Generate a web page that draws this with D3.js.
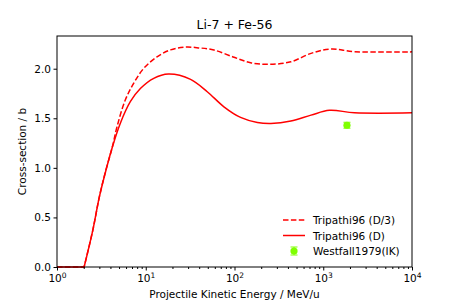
<!DOCTYPE html>
<html>
<head>
<meta charset="utf-8">
<script src="https://cdn.jsdelivr.net/npm/d3@7/dist/d3.min.js"></script>
<style>
body { margin: 0; background: #fff; }
text { font-family: "DejaVu Sans", sans-serif; fill: #000; }
</style>
</head>
<body>
<script>
// energies in MeV/u, cross-sections in barn
var energyD = [1, 2.02, 2.53, 3.0, 3.5, 4.16, 5.16, 6.7, 8.7, 12.3, 18, 32, 49.3, 76, 117, 181, 257, 432, 728, 1175, 2250, 10000];
var sigmaD = [0, 0, 0.37, 0.707, 0.95, 1.196, 1.448, 1.667, 1.80, 1.903, 1.946, 1.893, 1.768, 1.616, 1.509, 1.458, 1.448, 1.472, 1.532, 1.58, 1.556, 1.555];

var energyD3 = [1, 2.02, 2.53, 3.0, 3.5, 4.2, 4.73, 5.88, 7.3, 9.5, 13.4, 19, 28, 40, 58.6, 99, 152, 245, 432, 728, 1225, 2250, 10000];
var sigmaD3 = [0, 0, 0.37, 0.707, 0.955, 1.21, 1.41, 1.684, 1.852, 2.004, 2.12, 2.19, 2.218, 2.21, 2.189, 2.115, 2.06, 2.044, 2.07, 2.155, 2.199, 2.172, 2.17];

var expEnergy = [1850];
var expSigma = [1.43];
var expErr = [0.03];

var yTicks = [0, 0.5, 1.0, 1.5, 2.0];
var xTicks = [1, 10, 100, 1000, 10000];

var width = 457,
    height = 305,
    margin = {top: 36, right: 45, bottom: 38, left: 57};

var svg = d3.select("body").append("svg")
    .attr("width", width)
    .attr("height", height);

var x = d3.scaleLog().domain([1, 10000]).range([margin.left, width - margin.right]);
var y = d3.scaleLinear().domain([0, 2.33]).range([height - margin.bottom, margin.top]);

var flat = d3.line()
    .x(function(d) { return x(d[0]); })
    .y(function(d) { return y(d[1]); });
var smooth = d3.line()
    .x(function(d) { return x(d[0]); })
    .y(function(d) { return y(d[1]); })
    .curve(d3.curveCatmullRom.alpha(0.5));

// zero part as straight line, the rest as a smooth curve
function curvePath(pts) {
    var k = 0;
    while (k + 1 < pts.length && pts[k + 1][1] === 0) k++;
    return flat(pts.slice(0, k + 1)) + smooth(pts.slice(k)).replace(/^M/, "L");
}

var plot = svg.append("g");

plot.append("path")
    .attr("fill", "none")
    .attr("stroke", "red")
    .attr("stroke-width", 1.5)
    .attr("stroke-dasharray", "5.5,2.4")
    .attr("d", curvePath(d3.zip(energyD3, sigmaD3)));

plot.append("path")
    .attr("fill", "none")
    .attr("stroke", "red")
    .attr("stroke-width", 1.5)
    .attr("d", curvePath(d3.zip(energyD, sigmaD)));

// experimental point
var pts = svg.append("g").selectAll("g")
    .data(d3.zip(expEnergy, expSigma, expErr))
    .enter().append("g");
pts.append("line")
    .attr("x1", function(d) { return x(d[0]); })
    .attr("x2", function(d) { return x(d[0]); })
    .attr("y1", function(d) { return y(d[1] - d[2]); })
    .attr("y2", function(d) { return y(d[1] + d[2]); })
    .attr("stroke", "#7fff00").attr("stroke-width", 1);
[-1, 1].forEach(function(s) {
    pts.append("line")
        .attr("x1", function(d) { return x(d[0]) - 3.5; })
        .attr("x2", function(d) { return x(d[0]) + 3.5; })
        .attr("y1", function(d) { return y(d[1] + s * d[2]); })
        .attr("y2", function(d) { return y(d[1] + s * d[2]); })
        .attr("stroke", "#7fff00").attr("stroke-width", 1);
});
pts.append("circle")
    .attr("cx", function(d) { return x(d[0]); })
    .attr("cy", function(d) { return y(d[1]); })
    .attr("r", 3.6)
    .attr("fill", "#7fff00");

// axes
var xAxis = svg.append("g")
    .attr("transform", "translate(0," + y.range()[0] + ")")
    .call(d3.axisBottom(x).tickValues(xTicks).tickSize(3.5).tickFormat(""));
var minor = [];
for (var p = 0; p < 4; p++) for (var k = 2; k < 10; k++) minor.push(k * Math.pow(10, p));
svg.append("g")
    .attr("transform", "translate(0," + y.range()[0] + ")")
    .call(d3.axisBottom(x).tickValues(minor).tickSize(2).tickFormat(""))
    .call(function(g) { g.select(".domain").remove(); });

xAxis.selectAll(".tick").append("text")
    .attr("y", 15)
    .attr("text-anchor", "middle")
    .style("font-size", "10.5px")
    .each(function(d) {
        var t = d3.select(this);
        t.append("tspan").text("10");
        t.append("tspan").attr("dy", -4.5).style("font-size", "7.5px")
            .text(Math.round(Math.log10(d)));
    });

svg.append("g")
    .attr("transform", "translate(" + margin.left + ",0)")
    .call(d3.axisLeft(y).tickValues(yTicks).tickSize(3.5).tickFormat(d3.format(".1f")))
    .call(function(g) {
        g.selectAll("text").style("font-size", "10.5px").attr("x", -6);
    });

svg.selectAll(".domain").remove();
svg.append("rect")
    .attr("x", margin.left).attr("y", margin.top)
    .attr("width", x.range()[1] - margin.left)
    .attr("height", y.range()[0] - margin.top)
    .attr("fill", "none").attr("stroke", "#000").attr("stroke-width", 1);
svg.selectAll(".tick line").attr("stroke", "#000");

// labels
svg.append("text")
    .attr("x", (margin.left + x.range()[1]) / 2).attr("y", 29)
    .attr("text-anchor", "middle").style("font-size", "12.5px")
    .text("Li-7 + Fe-56");
svg.append("text")
    .attr("x", (margin.left + x.range()[1]) / 2).attr("y", 298)
    .attr("text-anchor", "middle").style("font-size", "10.5px")
    .text("Projectile Kinetic Energy / MeV/u");
svg.append("text")
    .attr("transform", "translate(26," + (margin.top + y.range()[0]) / 2 + ") rotate(-90)")
    .attr("text-anchor", "middle").style("font-size", "10.5px")
    .text("Cross-section / b");

// legend
var legend = svg.append("g").attr("transform", "translate(283,220)");
var items = ["Tripathi96 (D/3)", "Tripathi96 (D)", "Westfall1979(IK)"];
items.forEach(function(name, i) {
    var g = legend.append("g").attr("transform", "translate(0," + (i * 15.5) + ")");
    if (i < 2) {
        g.append("line").attr("x1", 0).attr("x2", 22)
            .attr("stroke", "red").attr("stroke-width", 1.5)
            .attr("stroke-dasharray", i == 0 ? "5.5,2.4" : null);
    } else {
        g.append("line").attr("x1", 11).attr("x2", 11).attr("y1", -4).attr("y2", 4)
            .attr("stroke", "#7fff00");
        g.append("line").attr("x1", 7.5).attr("x2", 14.5).attr("y1", -4).attr("y2", -4).attr("stroke", "#7fff00");
        g.append("line").attr("x1", 7.5).attr("x2", 14.5).attr("y1", 4).attr("y2", 4).attr("stroke", "#7fff00");
        g.append("circle").attr("cx", 11).attr("r", 3.6).attr("fill", "#7fff00");
    }
    g.append("text").attr("x", 30).attr("y", 4)
        .style("font-size", "10.5px").text(name);
});
</script>
</body>
</html>
